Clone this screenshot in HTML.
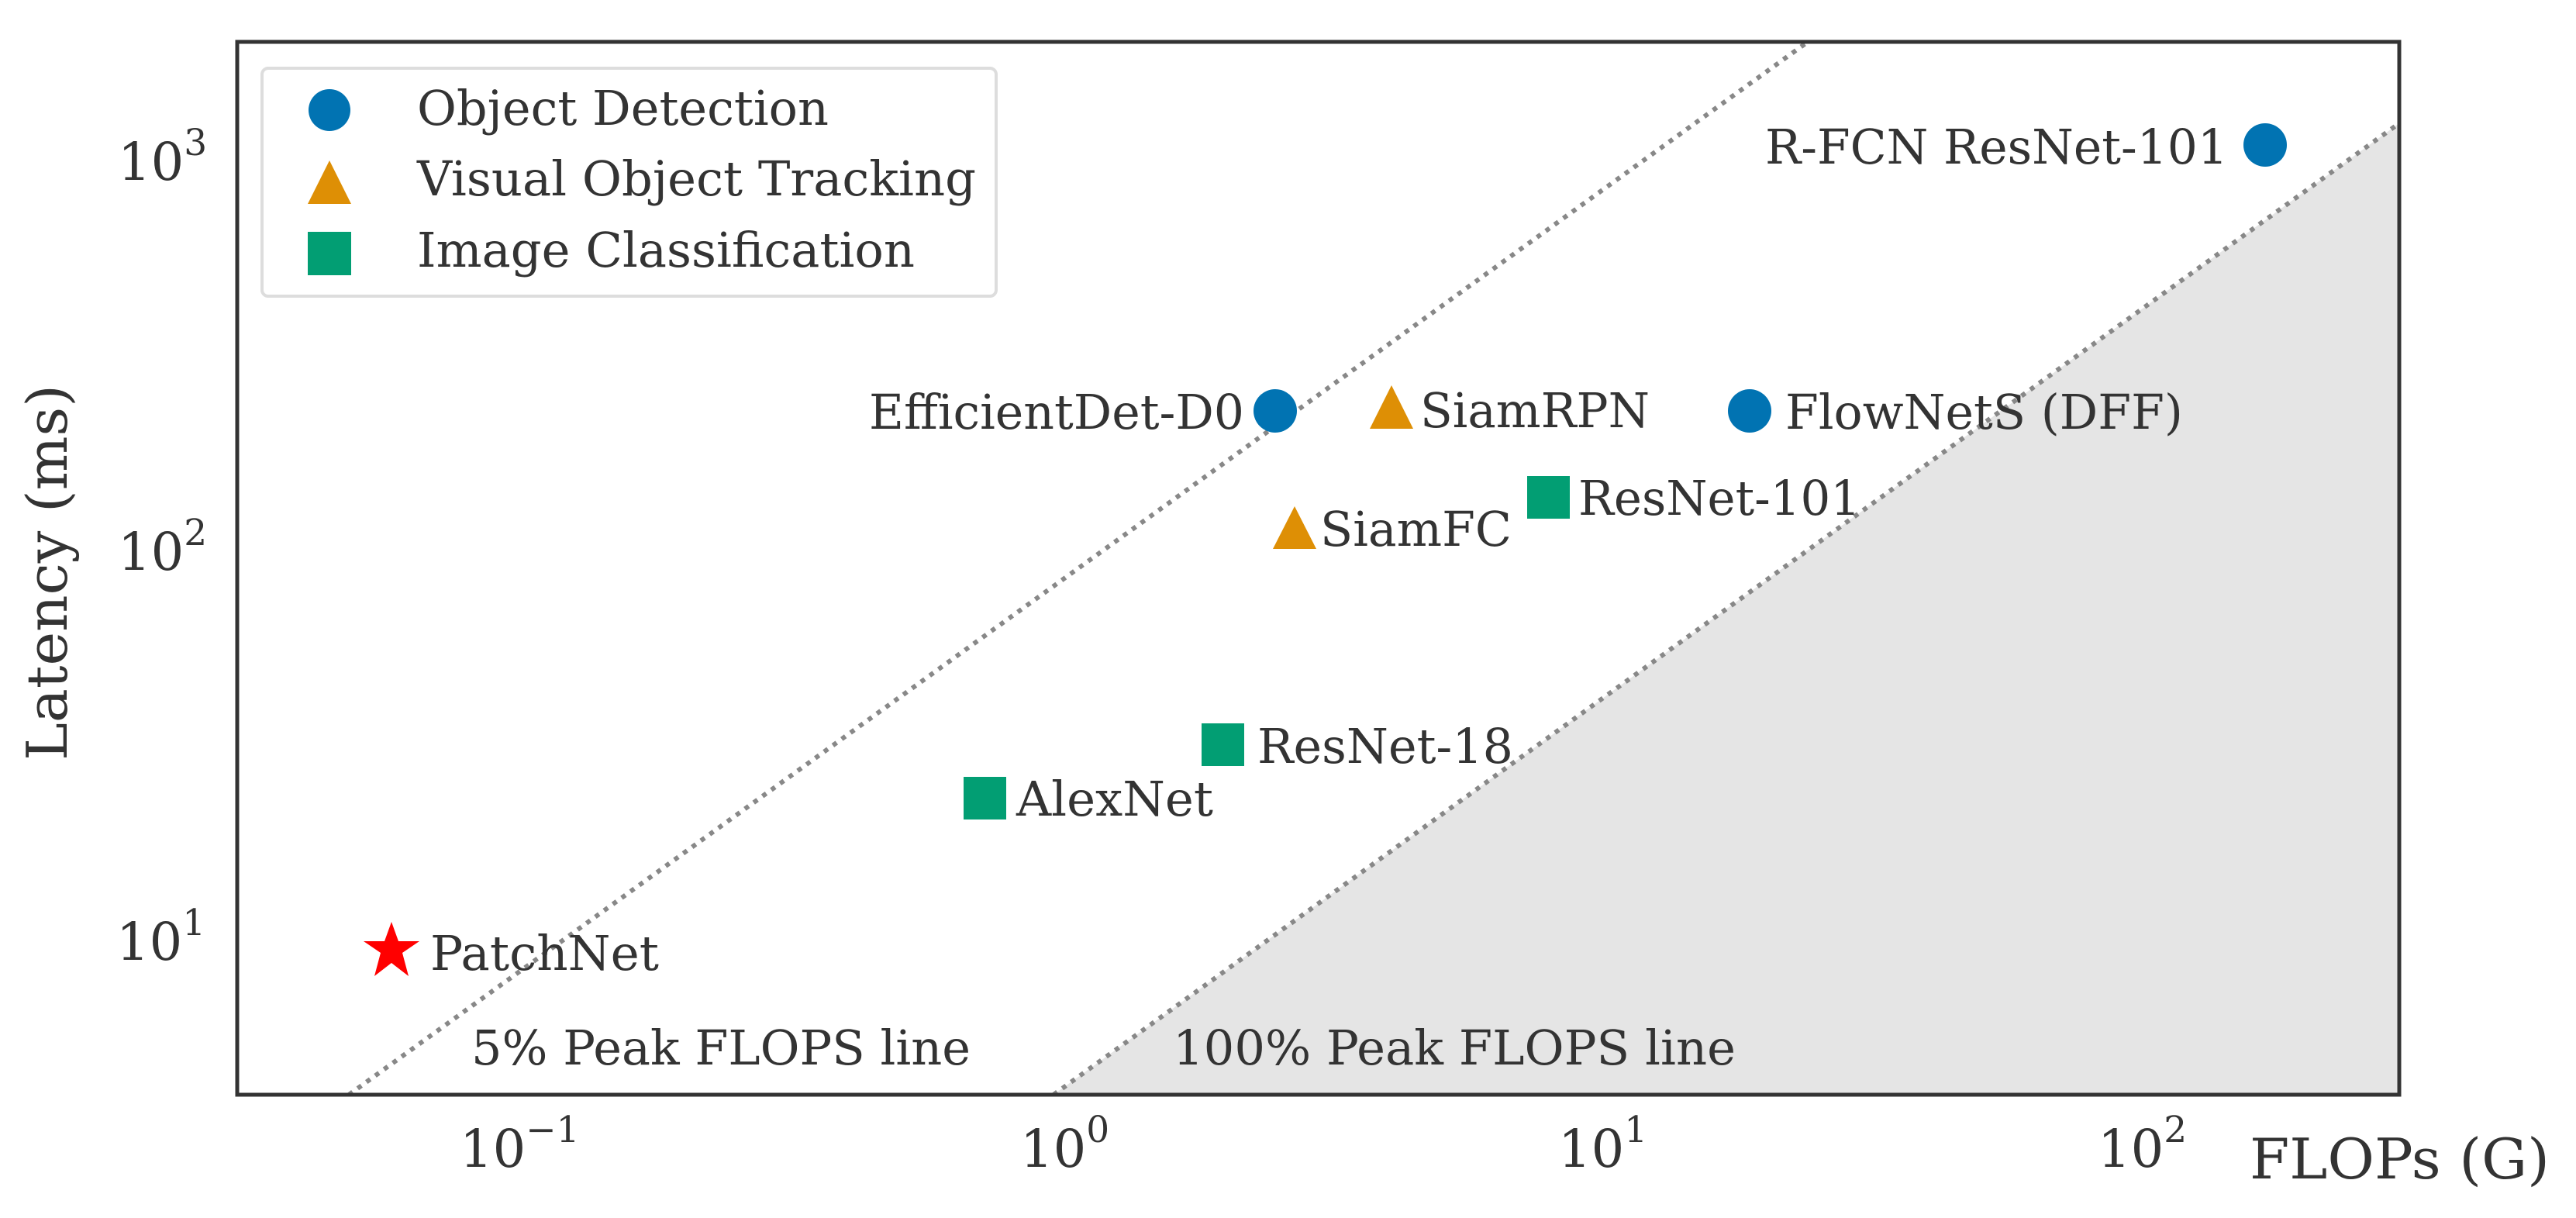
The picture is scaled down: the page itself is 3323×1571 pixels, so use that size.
<!DOCTYPE html>
<html><head><meta charset="utf-8"><style>
html,body{margin:0;padding:0;background:#fff;}
svg{display:block;}
text{font-family:"DejaVu Serif","Liberation Serif",serif;fill:#333;}
</style></head><body>
<svg width="3323" height="1571" viewBox="0 0 3323 1571" xmlns="http://www.w3.org/2000/svg">
<defs><clipPath id="c"><rect x="306" y="54" width="2789" height="1358"/></clipPath></defs>
<rect x="0" y="0" width="3323" height="1571" fill="#fff"/>
<g clip-path="url(#c)">
<polygon points="1359,1412 3095,159 3095,1412" fill="#e5e5e5"/>
<line x1="450" y1="1412" x2="2332" y2="54" stroke="#888" stroke-width="6" stroke-dasharray="6 8"/>
<line x1="1359" y1="1412" x2="3095" y2="159" stroke="#888" stroke-width="6" stroke-dasharray="6 8"/>
</g>
<rect x="306" y="54" width="2789" height="1358" fill="none" stroke="#333" stroke-width="5"/>

<!-- legend -->
<rect x="338" y="88" width="947" height="294" rx="8" fill="#fff" fill-opacity="0.8" stroke="#ddd" stroke-width="4"/>
<circle cx="425" cy="142" r="27" fill="#0173b2"/>
<polygon points="425,207 453,263 397,263" fill="#de8f05"/>
<rect x="397" y="299" width="56" height="56" fill="#029e73"/>
<text x="538" y="161" font-size="62" textLength="531" lengthAdjust="spacingAndGlyphs">Object Detection</text>
<text x="538" y="252" font-size="62" textLength="721" lengthAdjust="spacingAndGlyphs">Visual Object Tracking</text>
<text x="538" y="344" font-size="62" textLength="642" lengthAdjust="spacingAndGlyphs">Image Classification</text>

<!-- points -->
<circle cx="2922" cy="187" r="28" fill="#0173b2"/>
<text x="2277" y="211" font-size="62" textLength="597" lengthAdjust="spacingAndGlyphs">R-FCN ResNet-101</text>
<circle cx="1645" cy="530" r="28" fill="#0173b2"/>
<text x="1121" y="553" font-size="62" textLength="484" lengthAdjust="spacingAndGlyphs">EfficientDet-D0</text>
<polygon points="1795,497 1823,553 1767,553" fill="#de8f05"/>
<text x="1832" y="551" font-size="62" textLength="296" lengthAdjust="spacingAndGlyphs">SiamRPN</text>
<circle cx="2257" cy="530" r="28" fill="#0173b2"/>
<text x="2303" y="553" font-size="62" textLength="513" lengthAdjust="spacingAndGlyphs">FlowNetS (DFF)</text>
<rect x="1970" y="614" width="55" height="55" fill="#029e73"/>
<text x="2036" y="664" font-size="62" textLength="364" lengthAdjust="spacingAndGlyphs">ResNet-101</text>
<polygon points="1670,653 1698,708 1642,708" fill="#de8f05"/>
<text x="1703" y="704" font-size="62" textLength="247" lengthAdjust="spacingAndGlyphs">SiamFC</text>
<rect x="1550" y="933" width="55" height="55" fill="#029e73"/>
<text x="1622" y="984" font-size="62" textLength="330" lengthAdjust="spacingAndGlyphs">ResNet-18</text>
<rect x="1243" y="1002" width="55" height="55" fill="#029e73"/>
<text x="1311" y="1052" font-size="62" textLength="254" lengthAdjust="spacingAndGlyphs">AlexNet</text>
<polygon points="505,1189 514,1214 541,1214 519,1229 527,1259 505,1242 483,1259 491,1229 469,1214 496,1214" fill="#ff0000"/>
<text x="555" y="1251" font-size="62" textLength="295" lengthAdjust="spacingAndGlyphs">PatchNet</text>
<text x="608" y="1373" font-size="62" textLength="644" lengthAdjust="spacingAndGlyphs">5% Peak FLOPS line</text>
<text x="1513" y="1373" font-size="62" textLength="726" lengthAdjust="spacingAndGlyphs">100% Peak FLOPS line</text>

<!-- y ticks -->
<text x="152" y="232" font-size="67">10<tspan font-size="47" dy="-32">3</tspan></text>
<text x="152" y="735" font-size="67">10<tspan font-size="47" dy="-32">2</tspan></text>
<text x="150" y="1238" font-size="67">10<tspan font-size="47" dy="-32">1</tspan></text>
<!-- x ticks -->
<text x="593" y="1505" font-size="67">10<tspan font-size="47" dy="-32">−1</tspan></text>
<text x="1316" y="1505" font-size="67">10<tspan font-size="47" dy="-32">0</tspan></text>
<text x="2010" y="1505" font-size="67">10<tspan font-size="47" dy="-32">1</tspan></text>
<text x="2706" y="1505" font-size="67">10<tspan font-size="47" dy="-32">2</tspan></text>

<!-- axis labels -->
<text x="2902" y="1520" font-size="72" textLength="387" lengthAdjust="spacingAndGlyphs">FLOPs (G)</text>
<text transform="translate(86,981) rotate(-90)" x="0" y="0" font-size="72" textLength="485" lengthAdjust="spacingAndGlyphs">Latency (ms)</text>
</svg>
</body></html>
